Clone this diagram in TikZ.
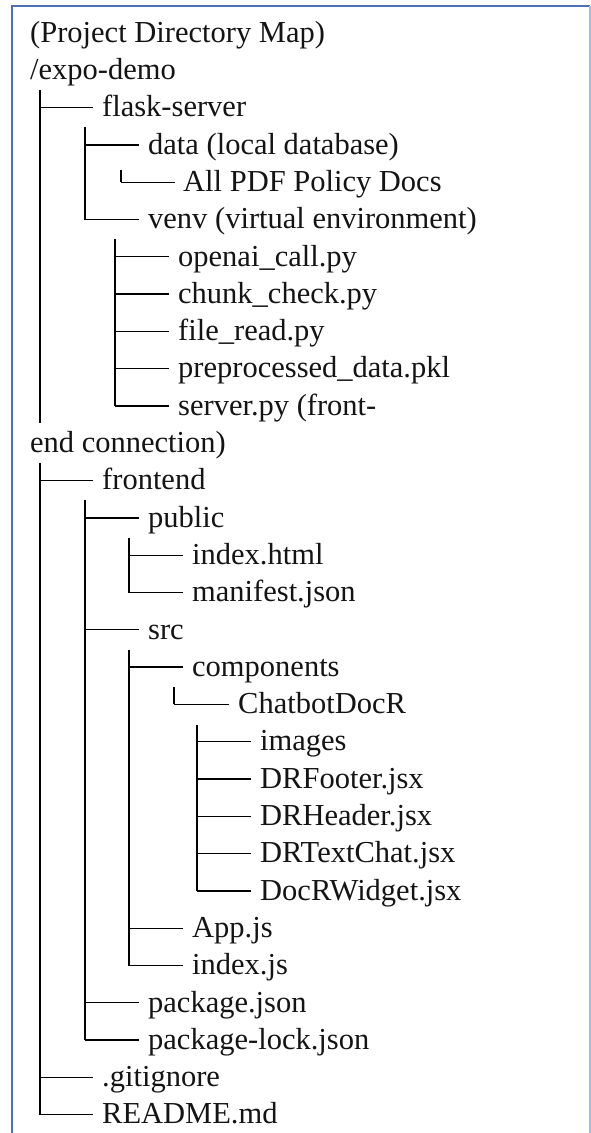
\documentclass[tikz,border=0pt]{standalone}
\usepackage{fontspec}
\setmainfont{Liberation Serif}
\definecolor{framedark}{RGB}{80,110,185}
\definecolor{framelight}{RGB}{170,185,225}
\definecolor{inkcol}{RGB}{20,20,20}
\begin{document}
\begin{tikzpicture}[x=1pt,y=-1pt,
  entry/.style={anchor=west,inner sep=0pt,text=inkcol,
    font=\fontsize{30.5}{37.3}\selectfont,text height=26pt,text depth=7.5pt},
  plain/.style={entry},
  branch/.style={draw=black,line width=1.3pt},
  trunk/.style={draw=black,line width=1.6pt}]
\useasboundingbox (0,0) rectangle (591,1133);
% page frame (its lower edge runs off the page)
\draw[framedark,line width=1.4pt] (12,1140) -- (12,6) -- (590,6);
\draw[framelight,line width=1.4pt] (590,6) -- (590,1140);

% ---- texts ----
\node[plain] (title) at (30,33) {(Project Directory Map)};
\node[plain] (root)  at (30,70.3) {/expo-demo};
\node[entry] (flask) at (102,107.6) {flask-server};
\node[entry] (data)  at (148,144.9) {data (local database)};
\node[entry] (pdf)   at (183,182.2) {All PDF Policy Docs};
\node[entry] (venv)  at (148,219.5) {venv (virtual environment)};
\node[entry] (oai)   at (178,256.8) {openai\_call.py};
\node[entry] (chunk) at (178,294.1) {chunk\_check.py};
\node[entry] (fread) at (178,331.4) {file\_read.py};
\node[entry] (pkl)   at (178,368.7) {preprocessed\_data.pkl};
\node[entry] (srv)   at (178,406) {server.py (front-};
\node[plain] (srvb)  at (30,443.3) {end connection)};
\node[entry] (front) at (102,480.6) {frontend};
\node[entry] (pub)   at (148,517.9) {public};
\node[entry] (ihtml) at (192,555.2) {index.html};
\node[entry] (mani)  at (192,592.5) {manifest.json};
\node[entry] (src)   at (148,629.8) {src};
\node[entry] (comp)  at (192,667.1) {components};
\node[entry] (cbot)  at (238,704.4) {ChatbotDocR};
\node[entry] (img)   at (260,741.7) {images};
\node[entry] (foot)  at (260,779) {DRFooter.jsx};
\node[entry] (head)  at (260,816.3) {DRHeader.jsx};
\node[entry] (chat)  at (260,853.6) {DRTextChat.jsx};
\node[entry] (wid)   at (260,890.9) {DocRWidget.jsx};
\node[entry] (app)   at (192,928.2) {App.js};
\node[entry] (ijs)   at (192,965.5) {index.js};
\node[entry] (pkg)   at (148,1002.8) {package.json};
\node[entry] (lock)  at (148,1040.1) {package-lock.json};
\node[entry] (git)   at (102,1077.4) {.gitignore};
\node[entry] (readme) at (102,1114.7) {README.md};

% ---- trunk tops ----
\coordinate (t1a) at (40,90);
\coordinate (t1b) at (40,423);
\coordinate (t1c) at (40,463);
\coordinate (tfl) at (85,127);
\coordinate (tda) at (121,170);
\coordinate (tve) at (115,239);
\coordinate (tfr) at (85,500);
\coordinate (tpu) at (129,538);
\coordinate (tsr) at (129,650);
\coordinate (tco) at (174,687);
\coordinate (tcb) at (197,725);

% ---- top level ----
\draw[trunk] (t1a) -- (t1b);
\draw[trunk] (t1c) -- (t1c |- readme.west);
\foreach \n in {flask,front,git,readme}
  \draw[branch] (t1a |- \n.west) -- ([xshift=-9.5pt]\n.west);

% ---- flask-server ----
\draw[trunk] (tfl) -- (tfl |- venv.west);
\foreach \n in {data,venv}
  \draw[branch] (tfl |- \n.west) -- ([xshift=-9.5pt]\n.west);
\draw[trunk] (tda) -- (tda |- pdf.west);
\draw[branch] (tda |- pdf.west) -- ([xshift=-8pt]pdf.west);
\draw[trunk] (tve) -- (tve |- srv.west);
\foreach \n in {oai,chunk,fread,pkl,srv}
  \draw[branch] (tve |- \n.west) -- ([xshift=-9.5pt]\n.west);

% ---- frontend ----
\draw[trunk] (tfr) -- (tfr |- lock.west);
\foreach \n in {pub,src,pkg,lock}
  \draw[branch] (tfr |- \n.west) -- ([xshift=-9.5pt]\n.west);
\draw[trunk] (tpu) -- (tpu |- mani.west);
\foreach \n in {ihtml,mani}
  \draw[branch] (tpu |- \n.west) -- ([xshift=-9.5pt]\n.west);
\draw[trunk] (tsr) -- (tsr |- ijs.west);
\foreach \n in {comp,app,ijs}
  \draw[branch] (tsr |- \n.west) -- ([xshift=-9.5pt]\n.west);
\draw[trunk] (tco) -- (tco |- cbot.west);
\draw[branch] (tco |- cbot.west) -- ([xshift=-9.5pt]cbot.west);
\draw[trunk] (tcb) -- (tcb |- wid.west);
\foreach \n in {img,foot,head,chat,wid}
  \draw[branch] (tcb |- \n.west) -- ([xshift=-9.5pt]\n.west);
\end{tikzpicture}
\end{document}
